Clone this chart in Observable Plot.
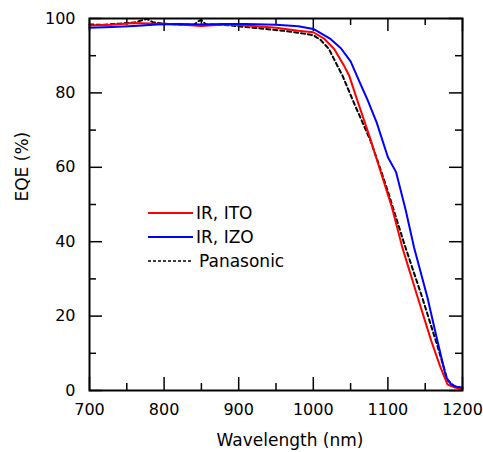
<!DOCTYPE html>
<html><head><meta charset="utf-8">
<script src="https://cdn.jsdelivr.net/npm/d3@7"></script>
<script src="https://cdn.jsdelivr.net/npm/@observablehq/plot@0.6"></script>
<style>body{margin:0;background:#fff} #chart{position:relative;width:483px;height:452px}</style>
</head><body><div id="chart"></div>
<script>
// Series: IR, ITO (red)
const itoWl = [700, 730, 760, 790, 820, 850, 880, 910, 950, 980, 1000, 1015, 1028, 1041, 1048, 1059, 1075, 1090, 1105, 1120, 1140, 1158, 1170, 1180, 1190, 1200];
const itoEqe = [98.1, 98.3, 98.8, 98.6, 98.4, 98.0, 98.4, 98.1, 97.5, 96.7, 96.3, 94.5, 91.8, 87.4, 84.7, 78, 68.5, 59, 49.5, 38, 25, 13.4, 6.5, 1.6, 0.8, 0.3];
// Series: IR, IZO (blue)
const izoWl = [700, 730, 760, 790, 820, 850, 880, 910, 950, 980, 1000, 1023, 1037, 1050, 1063, 1073, 1085, 1100, 1111, 1124, 1135, 1153, 1165, 1178, 1185, 1192, 1200];
const izoEqe = [97.5, 97.7, 98.0, 98.4, 98.5, 98.4, 98.5, 98.5, 98.3, 97.9, 97.2, 94.5, 92.0, 88.5, 82.5, 78, 72, 62.7, 58.7, 48.4, 38.5, 25, 14.5, 3.6, 1.6, 1.0, 0.8];
// Series: Panasonic (black dashed)
const panWl = [700, 720, 740, 760, 770, 777, 785, 800, 820, 840, 846, 850, 856, 880, 900, 930, 960, 985, 1000, 1010, 1021, 1032, 1039, 1053, 1077, 1090, 1100, 1122, 1146, 1167, 1180, 1190, 1200];
const panEqe = [98.4, 98.3, 98.6, 98.9, 99.5, 99.9, 99.0, 98.6, 98.4, 98.3, 99.3, 99.6, 98.4, 98.3, 97.9, 97.3, 96.7, 96.0, 95.5, 94.2, 91.8, 87.4, 84.7, 78, 67, 59.5, 53.5, 39.4, 25, 11.6, 2.7, 1.0, 0.5];

const seriesNames = ["IR, ITO", "IR, IZO", "Panasonic"];
const seriesColors = ["#ff0000", "#0000ff", "#000000"];

const xMajor = [700, 800, 900, 1000, 1100, 1200];
const xMinor = [750, 850, 950, 1050, 1150];
const yMajor = [0, 20, 40, 60, 80, 100];
const yMinor = [10, 30, 50, 70, 90];

const toRows = (w, v) => w.map((x, i) => ({wl: x, v: v[i]}));
const ito = toRows(itoWl, itoEqe), izo = toRows(izoWl, izoEqe), pan = toRows(panWl, panEqe);

const W = 483, H = 452, mL = 89, mR = 21, mT = 18, mB = 62;
const iw = W - mL - mR, ih = H - mT - mB;
const tk = {stroke: "#000", strokeOpacity: 1, strokeWidth: 1.5};

const plot = Plot.plot({
  width: W, height: H,
  marginLeft: mL, marginRight: mR, marginTop: mT, marginBottom: mB,
  style: {fontFamily: "DejaVu Sans", fontSize: "16px", color: "#000", background: "#fff"},
  x: {domain: [700, 1200]},
  y: {domain: [0, 100]},
  marks: [
    Plot.gridX(xMajor, {...tk, insetTop: ih - 13}),
    Plot.gridX(xMajor, {...tk, insetBottom: ih - 13}),
    Plot.gridX(xMinor, {...tk, insetTop: ih - 7}),
    Plot.gridX(xMinor, {...tk, insetBottom: ih - 7}),
    Plot.gridY(yMajor, {...tk, insetRight: iw - 13}),
    Plot.gridY(yMajor, {...tk, insetLeft: iw - 13}),
    Plot.gridY(yMinor, {...tk, insetRight: iw - 7}),
    Plot.gridY(yMinor, {...tk, insetLeft: iw - 7}),
    Plot.line(pan, {x: "wl", y: "v", stroke: seriesColors[2], strokeWidth: 2, strokeDasharray: "4,3"}),
    Plot.line(ito, {x: "wl", y: "v", stroke: seriesColors[0], strokeWidth: 2}),
    Plot.line(izo, {x: "wl", y: "v", stroke: seriesColors[1], strokeWidth: 2}),
    Plot.frame({stroke: "#000", strokeWidth: 2}),
    Plot.axisX(xMajor, {anchor: "bottom", tickSize: 0, tickPadding: 13, fontSize: 16, label: null, tickFormat: d => String(d)}),
    Plot.axisY(yMajor, {anchor: "left", tickSize: 0, tickPadding: 14, fontSize: 16, label: null, tickFormat: d => String(d)}),
    Plot.text(["Wavelength (nm)"], {frameAnchor: "bottom", dx: 14, dy: 55, fontSize: 17, fill: "#000"}),
    Plot.text(["EQE (%)"], {frameAnchor: "left", dx: -67, dy: -3, rotate: -90, fontSize: 17, fill: "#000"})
  ]
});
document.getElementById("chart").appendChild(plot);

// Legend inside plot area
const svg = d3.select(plot);
const lg = svg.append("g").attr("font-family", "DejaVu Sans").attr("font-size", 17).attr("text-anchor", "start");
const rowsY = [213, 237, 261];
seriesNames.forEach((name, i) => {
  lg.append("line").attr("x1", 148).attr("x2", 193).attr("y1", rowsY[i]).attr("y2", rowsY[i])
    .attr("stroke", seriesColors[i]).attr("stroke-width", i === 2 ? 1.5 : 2)
    .attr("stroke-dasharray", i === 2 ? "3,2" : null);
  lg.append("text").attr("x", i === 2 ? 199 : 196).attr("y", rowsY[i]).attr("dy", "0.35em")
    .attr("text-anchor", "start").attr("fill", "#000").text(name);
});
</script>
</body></html>
